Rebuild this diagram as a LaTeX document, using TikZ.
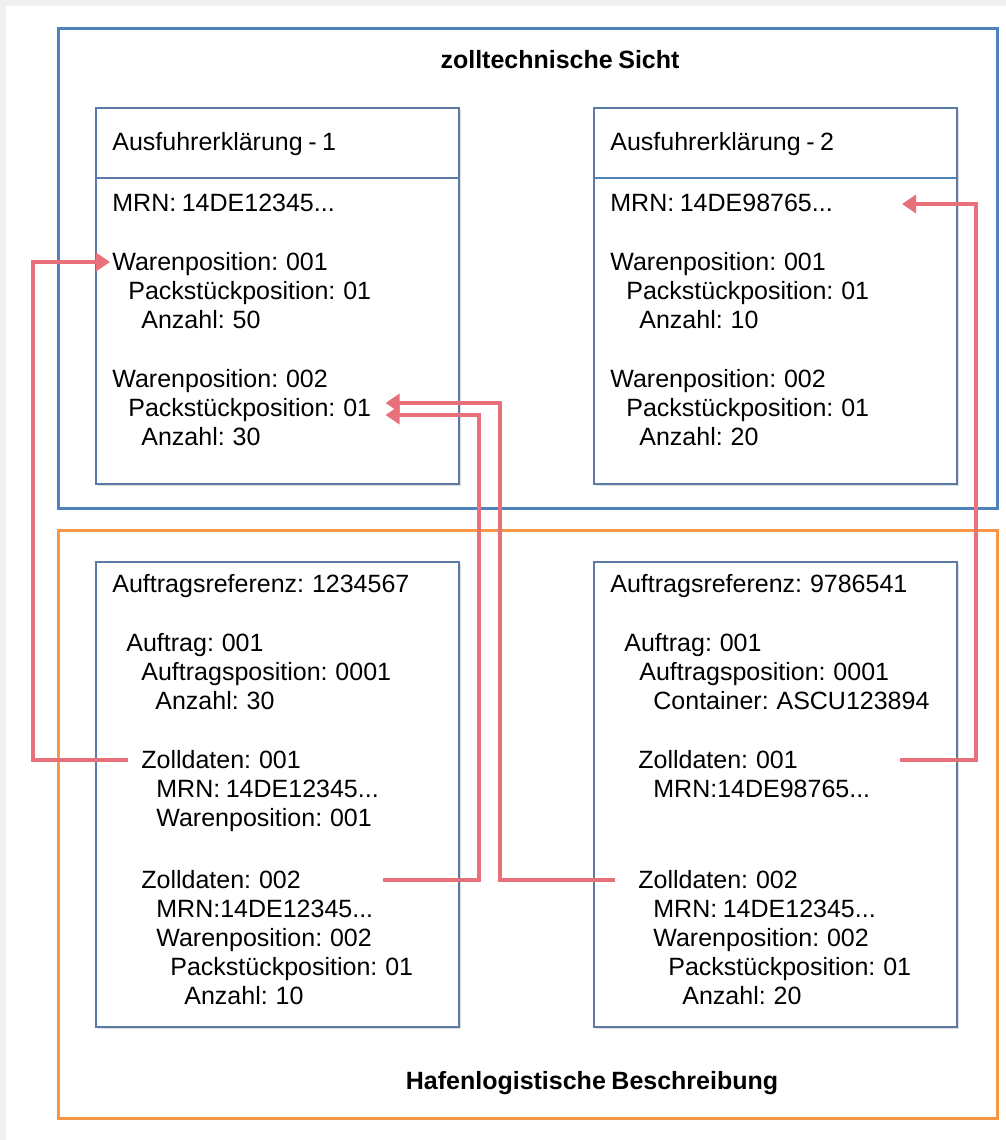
\documentclass[tikz,border=0pt]{standalone}
\usepackage{fontspec}
\setmainfont[WordSpace=0.8]{Liberation Sans}
\usetikzlibrary{arrows.meta,shadows}

\definecolor{zollblau}{HTML}{4F81BD}
\definecolor{hafenorange}{HTML}{F79646}
\definecolor{boxrand}{HTML}{5B7BA6}
\definecolor{pfeilrot}{HTML}{E8707A}

\tikzset{
    rahmen/.style={line width=1.5pt, fill=white,
        drop shadow={opacity=0.25, shadow xshift=1pt, shadow yshift=-1.2pt}},
    datenbox/.style={draw=boxrand, line width=0.6pt, fill=white,
        drop shadow={opacity=0.25, shadow xshift=1pt, shadow yshift=-1.2pt}},
    zeile/.style={anchor=west, inner sep=0pt, text height=8.6pt, text depth=0pt,
        font=\fontsize{12.5}{14}\selectfont},
    titel/.style={inner sep=0pt, font=\fontsize{12.5}{14}\selectfont\bfseries},
    link/.style={draw=pfeilrot, line width=1.8pt},
    pfeil/.style={link, -{Triangle[length=7pt,width=9pt]}}
}

\begin{document}
\begin{tikzpicture}[x=0.5pt, y=-0.5pt]
    \useasboundingbox (0,0) rectangle (1006,1140);
    \fill[gray!12] (0,0) rectangle (1006,6);
    \fill[gray!12] (0,0) rectangle (6,1140);

    % outer frames
    \draw[rahmen, draw=zollblau] (58,28) rectangle (997,508);
    \draw[rahmen, draw=hafenorange] (58,530) rectangle (997,1118);
    \node[titel] (zt) at (560,60) {zolltechnische Sicht};
    \node[titel] (hb) at (592,1083) {Hafenlogistische Beschreibung};

    % boxes
    \draw[datenbox] (96,108) rectangle (459,484);
    \draw[boxrand, line width=0.6pt] (96,178) -- (459,178);
    \draw[datenbox] (594,108) rectangle (957,484);
    \draw[zollblau, line width=0.9pt] (594,178) -- (957,178);
    \draw[datenbox] (96,562) rectangle (459,1027);
    \draw[datenbox] (594,562) rectangle (957,1027);

    % Ausfuhrerklaerung 1
    \node[zeile] (h1) at (112,142) {Ausfuhrerklärung - 1};
    \node[zeile] (mrn1) at (112,203) {MRN: 14DE12345...};
    \node[zeile] (wp11) at (112,262) {Warenposition: 001};
    \node[zeile] (pk11) at (128,291) {Packstückposition: 01};
    \node[zeile] (az11) at (141,320) {Anzahl: 50};
    \node[zeile] (wp12) at (112,379) {Warenposition: 002};
    \node[zeile] (pk12) at (128,408) {Packstückposition: 01};
    \node[zeile] (az12) at (141,437) {Anzahl: 30};

    % Ausfuhrerklaerung 2
    \node[zeile] (h2) at (610,142) {Ausfuhrerklärung - 2};
    \node[zeile] (mrn2) at (610,203) {MRN: 14DE98765...};
    \node[zeile] (wp21) at (610,262) {Warenposition: 001};
    \node[zeile] (pk21) at (626,291) {Packstückposition: 01};
    \node[zeile] (az21) at (639,320) {Anzahl: 10};
    \node[zeile] (wp22) at (610,379) {Warenposition: 002};
    \node[zeile] (pk22) at (626,408) {Packstückposition: 01};
    \node[zeile] (az22) at (639,437) {Anzahl: 20};

    % Auftragsreferenz 1234567
    \node[zeile] (ar3) at (112,584) {Auftragsreferenz: 1234567};
    \node[zeile] (ag3) at (126,643) {Auftrag: 001};
    \node[zeile] (ap3) at (141,672) {Auftragsposition: 0001};
    \node[zeile] (az3) at (155,701) {Anzahl: 30};
    \node[zeile] (zd31) at (141,760) {Zolldaten: 001};
    \node[zeile] (mrn31) at (156,789) {MRN: 14DE12345...};
    \node[zeile] (wp31) at (156,818) {Warenposition: 001};
    \node[zeile] (zd32) at (141,880) {Zolldaten: 002};
    \node[zeile] (mrn32) at (156,909) {MRN:14DE12345...};
    \node[zeile] (wp32) at (156,938) {Warenposition: 002};
    \node[zeile] (pk32) at (170,967) {Packstückposition: 01};
    \node[zeile] (az32) at (184,996) {Anzahl: 10};

    % Auftragsreferenz 9786541
    \node[zeile] (ar4) at (610,584) {Auftragsreferenz: 9786541};
    \node[zeile] (ag4) at (624,643) {Auftrag: 001};
    \node[zeile] (ap4) at (639,672) {Auftragsposition: 0001};
    \node[zeile] (ct4) at (653,701) {Container: ASCU123894};
    \node[zeile] (zd41) at (638,760) {Zolldaten: 001};
    \node[zeile] (mrn41) at (653,789) {MRN:14DE98765...};
    \node[zeile] (zd42) at (638,880) {Zolldaten: 002};
    \node[zeile] (mrn42) at (653,909) {MRN: 14DE12345...};
    \node[zeile] (wp42) at (653,938) {Warenposition: 002};
    \node[zeile] (pk42) at (668,967) {Packstückposition: 01};
    \node[zeile] (az42) at (682,996) {Anzahl: 20};

    % free ends of the links
    \coordinate (zd32end) at (383,880);
    \coordinate (zd41end) at (900,760);
    \coordinate (mrn2tip) at (902,204);

    % links
    \draw[pfeil] ([xshift=-6.5pt]zd31.west) -- ++(-95,0) |- ([xshift=-1pt]wp11.west);
    \draw[pfeil] (zd32end) -- ++(96,0) |- ([xshift=7pt,yshift=-3.5pt]pk12.east);
    \draw[pfeil] ([xshift=-11.5pt]zd42.west) -- ++(-115,0) |- ([xshift=7pt,yshift=2.5pt]pk12.east);
    \draw[pfeil] (zd41end) -- ++(76,0) |- (mrn2tip);
\end{tikzpicture}
\end{document}
